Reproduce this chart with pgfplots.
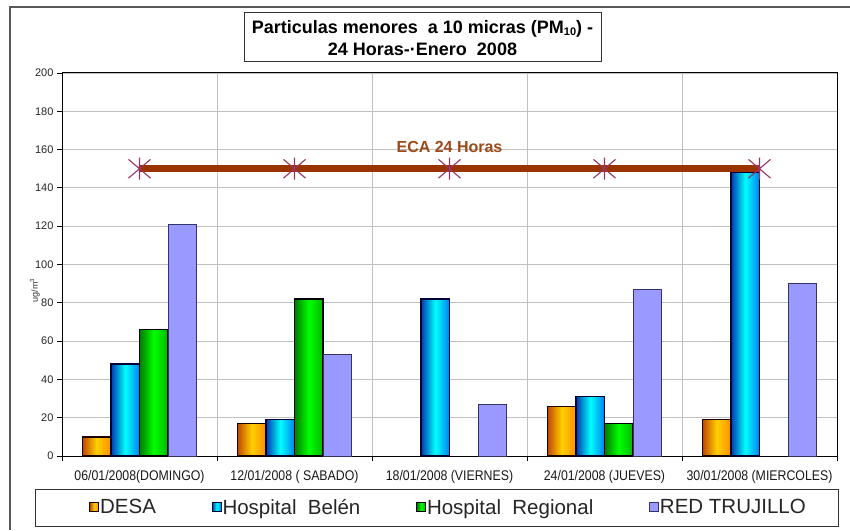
\documentclass[border=0pt]{standalone}
\usepackage{pgfplots}
\pgfplotsset{compat=1.18}
\usepackage{fontspec}
\setmainfont{Liberation Sans}
\definecolor{desaL}{HTML}{C04800}
\definecolor{desaM}{HTML}{FFD000}
\definecolor{desaR}{HTML}{FF8C00}
\definecolor{belL}{HTML}{0038B0}
\definecolor{belM}{HTML}{00FFFF}
\definecolor{belR}{HTML}{0080F0}
\definecolor{regL}{HTML}{007A00}
\definecolor{regM}{HTML}{00FF00}
\definecolor{regR}{HTML}{00B800}
\definecolor{redF}{HTML}{9999FF}
\definecolor{redD}{HTML}{333366}
\definecolor{ecaLine}{HTML}{993300}
\definecolor{ecaMark}{HTML}{993366}
\definecolor{ecaText}{HTML}{9C4A1A}
\definecolor{gridc}{HTML}{C0C0C0}
\newcommand{\xl}[1]{\scalebox{0.88}[1]{#1}}
\pgfdeclareplotmark{ecastar}{%
  \pgfpathmoveto{\pgfqpoint{0pt}{\pgfplotmarksize}}%
  \pgfpathlineto{\pgfqpoint{0pt}{-\pgfplotmarksize}}%
  \pgfpathmoveto{\pgfqpoint{-\pgfplotmarksize}{0.85\pgfplotmarksize}}%
  \pgfpathlineto{\pgfqpoint{\pgfplotmarksize}{-0.85\pgfplotmarksize}}%
  \pgfpathmoveto{\pgfqpoint{-\pgfplotmarksize}{-0.85\pgfplotmarksize}}%
  \pgfpathlineto{\pgfqpoint{\pgfplotmarksize}{0.85\pgfplotmarksize}}%
  \pgfusepathqstroke}
\begin{document}
\begin{tikzpicture}
\path[use as bounding box] (0,0) rectangle (850pt,530pt);
\fill[white] (0,0) rectangle (850pt,530pt);
% outer chart frame
\draw[color=black!65, line width=1.5pt] (10pt,0) -- (10pt,523pt) -- (850pt,523pt);
% title box
\draw[black!80, line width=1pt] (244pt,468pt) rectangle (601pt,517pt);
\node[align=center, font=\fontsize{18}{22}\selectfont\bfseries] at (422.5pt,492pt)
  {Particulas menores\ \ a 10 micras (PM{\fontsize{11}{11}\selectfont\raisebox{-2pt}{10}}) -\\24 Horas-·Enero\ \ 2008};
% legend box
\draw[black!80, line width=1pt] (35pt,4pt) rectangle (838pt,41pt);
\begin{axis}[
  at={(62pt,74pt)}, anchor=south west,
  scale only axis, width=775pt, height=383pt,
  xmin=-0.5, xmax=4.5, ymin=0, ymax=200,
  ytick={0,20,...,200},
  xtick={0,1,2,3,4},
  xticklabels={\xl{06/01/2008(DOMINGO)},\xl{12/01/2008 ( SABADO)},\xl{18/01/2008 (VIERNES)},\xl{24/01/2008 (JUEVES)},\xl{30/01/2008 (MIERCOLES)}},
  minor xtick={-0.5,0.5,1.5,2.5,3.5,4.5},
  xminorgrids, ymajorgrids,
  grid style={gridc, line width=0.8pt},
  minor grid style={gridc, line width=0.8pt},
  major x tick style={draw=none},
  minor tick length=5pt,
  major tick length=5pt,
  tick align=outside,
  tick style={black, line width=0.8pt},
  xtick pos=bottom, ytick pos=left,
  axis line style={black, line width=1pt},
  /pgf/number format/assume math mode=true,
  yticklabel style={font=\fontsize{11}{12}\selectfont, color=black!85},
  xticklabel style={font=\fontsize{14}{15}\selectfont, color=black!90, yshift=-6pt},
  clip=false,
  legend columns=4,
  legend style={draw=none, fill=none, at={(0.498,-0.134)}, anchor=center,
    font=\fontsize{20.5}{22}\selectfont, text=black!85,
    /tikz/every odd column/.append style={column sep=0pt},
    /tikz/every even column/.append style={column sep=55pt},
    nodes={inner sep=0.8pt}},
  legend cell align=left,
  sq/.style={legend image code/.code={\draw[##1, line width=1pt] (0pt,-4.5pt) rectangle (9pt,4.5pt);}},
  desa/.style={ybar, bar width=28.5pt, bar shift=-42.75pt, draw=black!90!red, line width=1.3pt,
    left color=desaL, right color=desaR, middle color=desaM, sq},
  bel/.style={ybar, bar width=28.5pt, bar shift=-14.25pt, draw=black!80!blue, line width=1.3pt,
    left color=belL, right color=belR, middle color=belM, sq},
  reg/.style={ybar, bar width=28.5pt, bar shift=14.25pt, draw=black, line width=1.3pt,
    left color=regL, right color=regR, middle color=regM, sq},
  redt/.style={ybar, bar width=28.5pt, bar shift=42.75pt, draw=redD, line width=0.8pt,
    fill=redF, sq},
]
% first bar of each series carries the legend entry
\addplot[desa] coordinates {(0,10)};
\addlegendentry{DESA}
\addplot[bel] coordinates {(0,48)};
\addlegendentry{Hospital\ \ Belén}
\addplot[reg] coordinates {(0,66)};
\addlegendentry{Hospital\ \ Regional}
\addplot[redt] coordinates {(0,121)};
\addlegendentry{RED TRUJILLO}
% remaining bars, one plot per bar so each gets its own gradient
\addplot[desa, forget plot] coordinates {(1,17)};
\addplot[desa, forget plot] coordinates {(3,26)};
\addplot[desa, forget plot] coordinates {(4,19)};
\addplot[bel, forget plot] coordinates {(1,19)};
\addplot[bel, forget plot] coordinates {(2,82)};
\addplot[bel, forget plot] coordinates {(3,31)};
\addplot[bel, forget plot] coordinates {(4,148)};
\addplot[reg, forget plot] coordinates {(1,82)};
\addplot[reg, forget plot] coordinates {(3,17)};
\addplot[redt, forget plot] coordinates {(1,53) (2,27) (3,87) (4,90)};
% ECA 24 horas limit
\addplot[forget plot, color=ecaLine, line width=6.5pt, mark=ecastar,
  mark size=11pt, mark options={color=ecaMark, line width=1.1pt, solid}]
  coordinates {(0,150) (1,150) (2,150) (3,150) (4,150)};
\node[font=\fontsize{16}{18}\selectfont\bfseries, text=ecaText] at (axis cs:2,161.5) {ECA 24 Horas};
\node[rotate=90, font=\fontsize{9}{10}\selectfont, text=black!80] at (rel axis cs:-0.035,0.433) {ug/m\textsuperscript{3}};
\end{axis}
\end{tikzpicture}
\end{document}
